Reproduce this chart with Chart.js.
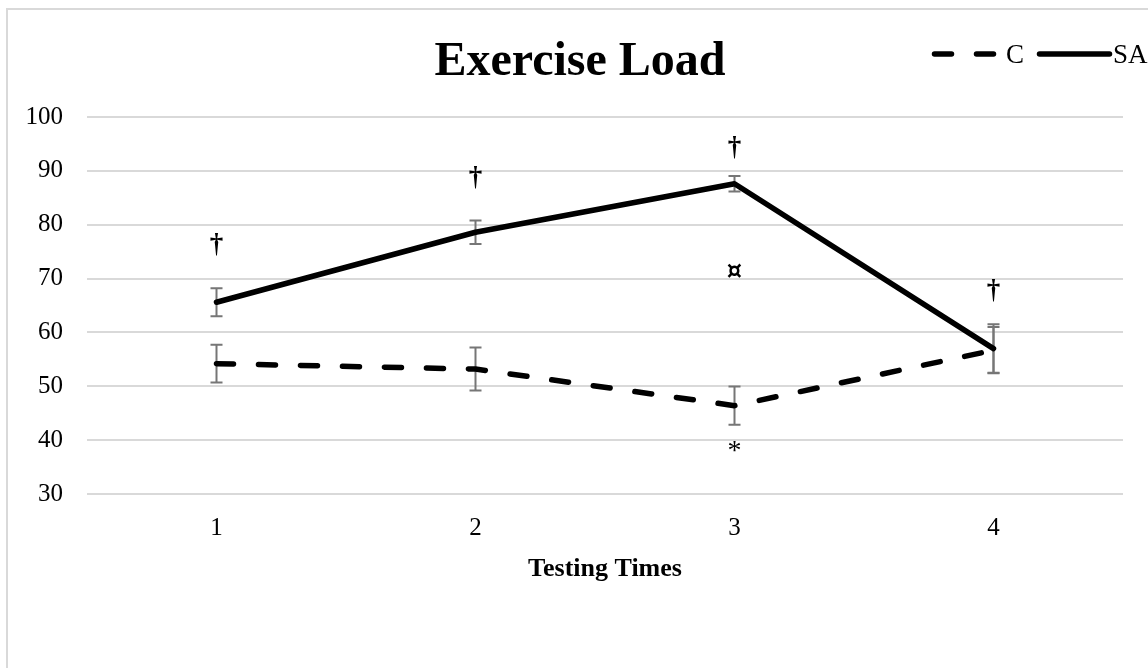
<!DOCTYPE html>
<html>
<head>
<meta charset="utf-8">
<title>Exercise Load</title>
<script src="https://cdn.jsdelivr.net/npm/chart.js@4/dist/chart.umd.min.js"></script>
<style>
  html, body { margin: 0; padding: 0; background: #ffffff; overflow: hidden; }
  #wrap { position: relative; width: 1148px; height: 668px; }
  #frame {
    position: absolute; left: 6px; top: 8px; width: 1200px; height: 720px;
    border-left: 2px solid #d9d9d9; border-top: 2px solid #d9d9d9;
    box-sizing: border-box;
  }
  #chart { position: absolute; left: 0; top: 0; }
</style>
</head>
<body>
<div id="wrap">
  <div id="frame"></div>
  <canvas id="chart" width="1148" height="668"></canvas>
</div>
<script>
// Testing times (x categories)
const categories = ['1', '2', '3', '4'];

// Group means
const meanC  = [54.2, 53.2, 46.4, 56.7];
const meanSA = [65.6, 78.6, 87.6, 57.0];

// Standard deviations for the error bars
const sdC  = [3.5, 4.0, 3.55, 4.3];
const sdSA = [2.6, 2.2, 1.45, 4.5];

// Y axis range and step
const yMin = 30;
const yMax = 100;
const yStep = 10;

// Significance markers: category index, value level, symbol
const markCategory = [0, 1, 2, 2, 2, 3];
const markLevel    = [76.2, 88.7, 94.2, 71.0, 37.8, 67.6];
const markSymbol   = ['\u2020', '\u2020', '\u2020', '\u00A4', '*', '\u2020'];

const SERIF = "'Liberation Serif', 'Times New Roman', serif";

// Font per marker symbol
const symbolFont = {
  '\u2020': 'bold 27px ' + SERIF,
  '\u00A4': 'bold 24px "DejaVu Sans", sans-serif',
  '*': '28px ' + SERIF
};

// Error bars drawn under the lines
const errorBars = {
  id: 'errorBars',
  beforeDatasetsDraw(chart) {
    const { ctx, scales: { x, y } } = chart;
    const sets = [[meanC, sdC], [meanSA, sdSA]];
    ctx.save();
    ctx.strokeStyle = '#767676';
    ctx.lineWidth = 2;
    ctx.lineCap = 'butt';
    sets.forEach(([m, s]) => {
      m.forEach((v, i) => {
        const px = x.getPixelForValue(i);
        const top = y.getPixelForValue(v + s[i]);
        const bot = y.getPixelForValue(v - s[i]);
        ctx.beginPath();
        ctx.moveTo(px, top); ctx.lineTo(px, bot);
        ctx.moveTo(px - 6, top); ctx.lineTo(px + 6, top);
        ctx.moveTo(px - 6, bot); ctx.lineTo(px + 6, bot);
        ctx.stroke();
      });
    });
    ctx.restore();
  }
};

// Significance symbols above/below the points
const markers = {
  id: 'markers',
  afterDatasetsDraw(chart) {
    const { ctx, scales: { x, y } } = chart;
    ctx.save();
    ctx.fillStyle = '#000000';
    ctx.textAlign = 'center';
    ctx.textBaseline = 'middle';
    markSymbol.forEach((s, k) => {
      ctx.font = symbolFont[s];
      ctx.fillText(s, x.getPixelForValue(markCategory[k]), y.getPixelForValue(markLevel[k]));
    });
    ctx.restore();
  }
};

// Title and line legend sharing the top band
const header = {
  id: 'header',
  afterDraw(chart) {
    const { ctx } = chart;
    ctx.save();
    ctx.fillStyle = '#000000';
    ctx.font = 'bold 48px ' + SERIF;
    ctx.textAlign = 'center';
    ctx.textBaseline = 'alphabetic';
    ctx.fillText('Exercise Load', 580, 75);

    ctx.font = '27px ' + SERIF;
    ctx.textAlign = 'left';
    const ly = 54;
    const items = [
      { ds: chart.data.datasets[0], x0: 934.5, x1: 994.5, tx: 1006 },
      { ds: chart.data.datasets[1], x0: 1039.5, x1: 1109.5, tx: 1113 }
    ];
    items.forEach(it => {
      ctx.strokeStyle = it.ds.borderColor;
      ctx.lineWidth = it.ds.borderWidth;
      ctx.lineCap = 'round';
      ctx.setLineDash(it.ds.borderDash || []);
      ctx.beginPath();
      ctx.moveTo(it.x0, ly); ctx.lineTo(it.x1, ly);
      ctx.stroke();
      ctx.setLineDash([]);
      ctx.fillText(it.ds.label, it.tx, 63);
    });
    ctx.restore();
  }
};

new Chart(document.getElementById('chart'), {
  type: 'line',
  data: {
    labels: categories,
    datasets: [
      {
        label: 'C',
        data: meanC,
        borderColor: '#000000',
        borderWidth: 5.5,
        borderDash: [17, 25],
        borderCapStyle: 'round',
        borderJoinStyle: 'round',
        pointRadius: 0,
        tension: 0,
        fill: false
      },
      {
        label: 'SA',
        data: meanSA,
        borderColor: '#000000',
        borderWidth: 5.5,
        borderCapStyle: 'round',
        borderJoinStyle: 'round',
        pointRadius: 0,
        tension: 0,
        fill: false
      }
    ]
  },
  options: {
    responsive: false,
    animation: false,
    layout: { padding: { left: 0, right: 25, top: 117, bottom: 83 } },
    plugins: {
      legend: { display: false },
      title: { display: false },
      tooltip: { enabled: false }
    },
    scales: {
      x: {
        offset: true,
        grid: { display: false, drawTicks: false },
        border: { display: false },
        ticks: { color: '#000000', padding: 19, font: { family: SERIF, size: 25 } },
        title: {
          display: true,
          text: 'Testing Times',
          color: '#000000',
          padding: { top: 0, bottom: 0 },
          font: { family: SERIF, size: 26, weight: 'bold' }
        },
        afterFit(scale) { scale.height = 91; }
      },
      y: {
        min: yMin,
        max: yMax,
        ticks: { stepSize: yStep, color: '#000000', padding: 24, font: { family: SERIF, size: 25 } },
        grid: { color: '#d9d9d9', lineWidth: 2, drawTicks: false },
        border: { display: false },
        afterFit(scale) { scale.width = 87; }
      }
    }
  },
  plugins: [errorBars, markers, header]
});
</script>
</body>
</html>
